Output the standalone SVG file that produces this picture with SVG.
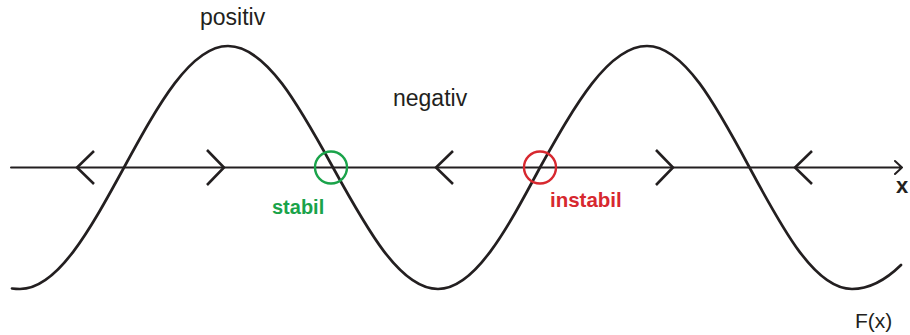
<svg xmlns="http://www.w3.org/2000/svg" width="910" height="335" viewBox="0 0 910 335">
<style>
.ln{fill:none;stroke:#231f20;stroke-width:2;stroke-linecap:round;stroke-linejoin:round}
.curve{fill:none;stroke:#231f20;stroke-width:2.7;stroke-linecap:round}
.chev{fill:none;stroke:#231f20;stroke-width:2.6;stroke-linecap:butt;stroke-linejoin:miter}
.t{font-family:"Liberation Sans",Arial,sans-serif;fill:#231f20}
</style>
<rect width="910" height="335" fill="#fff"/>
<g id="axis">
<path class="ln" d="M11,167.5 H902 M895,161 L902,167.5 L895,174"/>
<text class="t" x="896" y="193" font-size="22" font-weight="bold">x</text>
</g>
<g id="flow-arrows">
<path class="chev" d="M94,151 L77,167.5 L94,184"/>
<path class="chev" d="M207,150 L224,167.5 L207,185"/>
<path class="chev" d="M453,151 L436,167.5 L453,184"/>
<path class="chev" d="M656,150 L673,167.5 L656,185"/>
<path class="chev" d="M812,151 L795,167.5 L812,184"/>
</g>
<g id="curve">
<path class="curve" d="M12,288.5 Q16,289 20,289 C57.5,289 90.1,229.7 124,167.5 C157.9,105.3 190.5,46 228,46 C265.8,46 298.8,105.3 333,167.5 C367.2,229.7 400.2,289 438,289 C474.8,289 506.7,229.7 540,167.5 C574.9,105.3 608.4,46 647,46 C683.9,46 716.1,105.3 749.5,167.5 C782.9,229.7 815.1,289 852,289 Q876.5,289 901,265"/>
<text class="t" x="855" y="328" font-size="21">F(x)</text>
</g>
<g id="stabil">
<circle cx="331" cy="167.5" r="16" fill="none" stroke="#1aa34a" stroke-width="2.4"/>
<text class="t" x="272" y="214" font-size="20" font-weight="bold" style="fill:#1aa34a">stabil</text>
</g>
<g id="instabil">
<circle cx="540" cy="167.5" r="16" fill="none" stroke="#d7282f" stroke-width="2.4"/>
<text class="t" x="550" y="207" font-size="20.5" font-weight="bold" style="fill:#d7282f">instabil</text>
</g>
<g id="labels">
<text class="t" x="200" y="25" font-size="23">positiv</text>
<text class="t" x="393" y="106" font-size="23">negativ</text>
</g>
</svg>
